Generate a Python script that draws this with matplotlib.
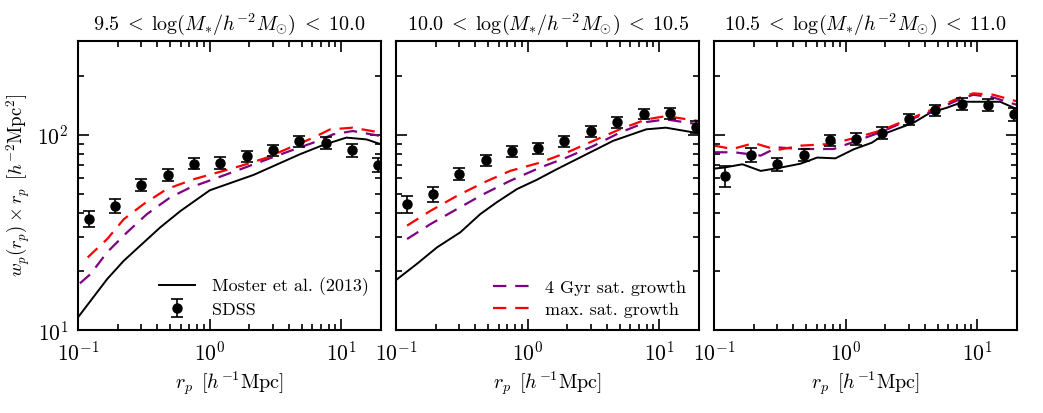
import matplotlib
matplotlib.use('Agg')
import matplotlib.pyplot as plt

plt.rcParams['font.family'] = 'serif'
plt.rcParams['font.serif'] = ['cmr10']
plt.rcParams['mathtext.fontset'] = 'cm'
plt.rcParams['axes.formatter.use_mathtext'] = True
plt.rcParams['font.size'] = 13

# SDSS points (same radii in every panel)
sdss_r = [0.12, 0.19, 0.30, 0.48, 0.76, 1.2, 1.9, 3.0, 4.8, 7.6, 12.0, 19.0]
sdss_wp_1 = [37.3, 43.3, 55.6, 62.3, 71.2, 71.9, 77.9, 83.2, 92.9, 91.0, 83.2, 70.3]
sdss_err_1 = [3.6, 3.4, 4.0, 4.2, 4.6, 4.8, 5.0, 5.4, 6.0, 6.2, 6.0, 6.0]
sdss_wp_2 = [44.2, 49.7, 63.1, 74.0, 82.2, 85.5, 92.9, 104.4, 116.0, 128.0, 128.5, 109.9]
sdss_err_2 = [4.4, 4.2, 4.6, 5.0, 5.4, 5.6, 6.0, 6.8, 7.4, 8.0, 8.0, 8.0]
sdss_wp_3 = [61.6, 78.8, 70.6, 78.8, 93.6, 95.4, 102.4, 119.7, 133.0, 143.8, 141.6, 127.0]
sdss_err_3 = [7.5, 6.5, 5.5, 5.5, 6.5, 6.5, 7.0, 8.0, 9.0, 10.0, 10.0, 9.5]

# Moster et al. (2013)
moster_r_1 = [0.1, 0.166, 0.222, 0.296, 0.42, 0.60, 1.0, 2.15, 4.83, 7.25, 10.9, 15.5, 20.0]
moster_wp_1 = [11.7, 18.3, 22.7, 27.1, 33.6, 40.8, 52.0, 62.3, 79.4, 88.5, 96.6, 94.6, 89.3]
moster_r_2 = [0.1, 0.144, 0.205, 0.307, 0.436, 0.58, 0.826, 1.17, 1.66, 2.49, 4.45, 7.95, 11.2, 20.0]
moster_wp_2 = [18.1, 21.9, 26.6, 31.7, 39.3, 45.1, 52.7, 58.8, 66.6, 76.4, 93.0, 106.5, 108.6, 101.6]
moster_r_3 = [0.1, 0.119, 0.164, 0.226, 0.32, 0.454, 0.607, 0.835, 1.15, 1.58, 2.06, 3.27, 4.38, 5.86, 7.83, 14.9, 20.0]
moster_wp_3 = [67.1, 67.9, 70.6, 65.3, 67.9, 71.1, 76.4, 75.7, 84.2, 91.0, 102.4, 115.0, 129.4, 137.3, 147.3, 147.3, 135.0]

# 4 Gyr satellite growth
gyr4_r_1 = [0.103, 0.124, 0.166, 0.235, 0.333, 0.50, 0.71, 1.07, 1.71, 2.72, 4.07, 6.1, 8.65, 12.2, 20.0]
gyr4_wp_1 = [17.4, 19.4, 25.1, 31.7, 39.3, 47.8, 53.7, 59.3, 66.6, 74.8, 82.6, 91.0, 100.4, 104.4, 98.4]
gyr4_r_2 = [0.121, 0.182, 0.29, 0.461, 0.734, 1.24, 1.97, 3.14, 5.0, 7.95, 11.2, 20.0]
gyr4_wp_2 = [29.3, 34.9, 41.7, 49.7, 58.1, 67.9, 76.4, 87.5, 102.4, 116.0, 119.7, 112.9]
gyr4_r_3 = [0.1, 0.142, 0.226, 0.302, 0.454, 0.81, 1.22, 1.83, 2.92, 4.64, 7.4, 9.33, 13.2, 20.0]
gyr4_wp_3 = [81.3, 81.3, 78.2, 86.1, 84.5, 84.5, 93.2, 102.8, 117.9, 132.5, 152.0, 160.0, 155.0, 142.0]

# maximal satellite growth
maxg_r_1 = [0.118, 0.166, 0.222, 0.314, 0.47, 0.76, 1.14, 1.71, 2.72, 4.07, 6.1, 8.2, 12.2, 20.0]
maxg_wp_1 = [23.6, 29.3, 37.0, 44.2, 52.7, 59.3, 64.0, 69.2, 76.4, 85.9, 96.5, 106.4, 108.6, 102.4]
maxg_r_2 = [0.121, 0.182, 0.29, 0.461, 0.734, 1.24, 1.97, 3.14, 5.0, 7.95, 11.2, 20.0]
maxg_wp_2 = [34.3, 40.8, 48.7, 56.9, 65.3, 72.0, 80.9, 92.9, 106.5, 119.7, 124.4, 117.4]
maxg_r_3 = [0.1, 0.138, 0.201, 0.302, 0.454, 0.766, 1.22, 1.83, 2.92, 4.64, 7.4, 9.33, 13.2, 20.0]
maxg_wp_3 = [87.9, 84.5, 90.6, 83.5, 87.9, 89.6, 96.9, 104.8, 118.9, 135.2, 155.0, 162.6, 160.0, 148.0]

titles = [r'$9.5\;<\;\log(M_{*}/h^{-2}M_{\odot})\;<\;10.0$',
          r'$10.0\;<\;\log(M_{*}/h^{-2}M_{\odot})\;<\;10.5$',
          r'$10.5\;<\;\log(M_{*}/h^{-2}M_{\odot})\;<\;11.0$']

panels = [
    (sdss_wp_1, sdss_err_1, moster_r_1, moster_wp_1, gyr4_r_1, gyr4_wp_1, maxg_r_1, maxg_wp_1),
    (sdss_wp_2, sdss_err_2, moster_r_2, moster_wp_2, gyr4_r_2, gyr4_wp_2, maxg_r_2, maxg_wp_2),
    (sdss_wp_3, sdss_err_3, moster_r_3, moster_wp_3, gyr4_r_3, gyr4_wp_3, maxg_r_3, maxg_wp_3),
]

fig, axes = plt.subplots(1, 3, figsize=(10.43, 4.13), dpi=100, sharey=True)
fig.subplots_adjust(left=0.075, right=0.975, bottom=0.2, top=0.9, wspace=0.05)

for i, ax in enumerate(axes):
    wp, err, mr, mw, gr, gw, xr, xw = panels[i]
    l_moster, = ax.plot(mr, mw, color='black', lw=1.4, label='Moster et al. (2013)')
    l_gyr, = ax.plot(gr, gw, color='#800080', lw=1.6, dashes=(6, 4), label='4 Gyr sat. growth')
    l_max, = ax.plot(xr, xw, color='red', lw=1.6, dashes=(6, 4), label='max. sat. growth')
    e_sdss = ax.errorbar(sdss_r, wp, yerr=err, fmt='o', color='black', ms=6.5,
                         capsize=4.5, elinewidth=1.2, capthick=1.2, label='SDSS')
    ax.set_xscale('log')
    ax.set_yscale('log')
    ax.set_xlim(0.1, 20)
    ax.set_ylim(10, 300)
    ax.set_title(titles[i], fontsize=14.5, pad=8)
    ax.set_xlabel(r'$r_p\ \,[h^{-1}{\rm Mpc}]$', fontsize=14.5)
    ax.tick_params(which='both', direction='in', top=True, right=True, width=1.2)
    ax.tick_params(which='major', length=8, labelsize=15.5, pad=7)
    ax.tick_params(which='minor', length=4)
    for s in ax.spines.values():
        s.set_linewidth(1.5)
    if i == 0:
        ax.legend([l_moster, e_sdss], ['Moster et al. (2013)', 'SDSS'], loc='lower right',
                  frameon=False, fontsize=13, handlelength=2.0, borderaxespad=0.3,
                  labelspacing=0.35, handletextpad=0.9)
    if i == 1:
        ax.legend([l_gyr, l_max], ['4 Gyr sat. growth', 'max. sat. growth'], loc='lower right',
                  frameon=False, fontsize=13, handlelength=2.0, borderaxespad=0.3,
                  labelspacing=0.35, handletextpad=0.9)
    if i > 0:
        ax.tick_params(labelleft=False)

axes[0].set_ylabel(r'$w_p(r_p) \times r_p\ \,[h^{-2}{\rm Mpc}^2]$', fontsize=13.5)

fig.savefig('out.png', dpi=100)
